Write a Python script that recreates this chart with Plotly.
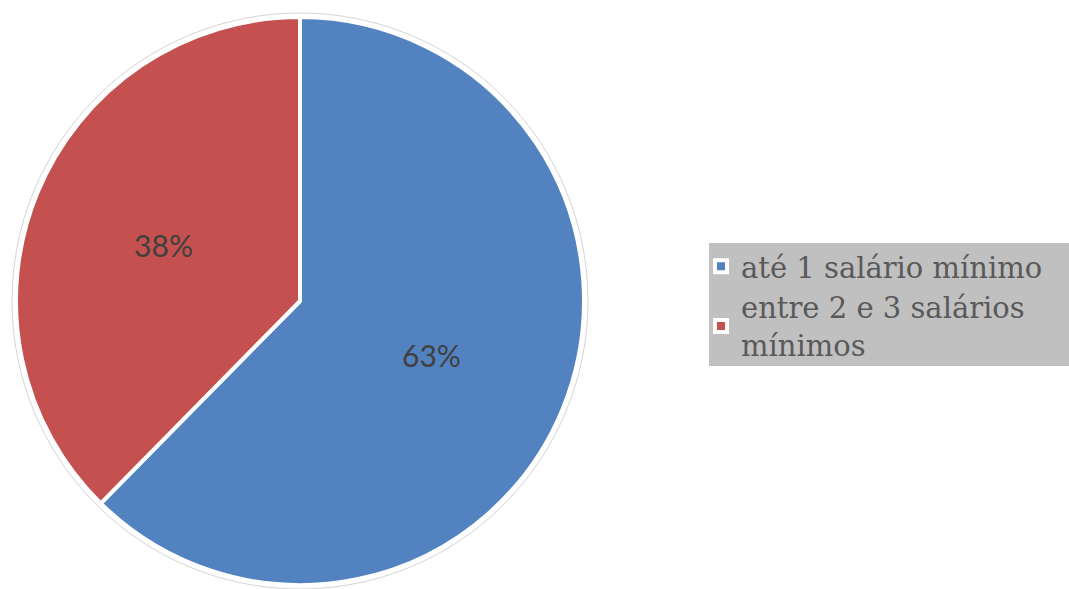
import plotly.graph_objects as go

# Income bands and their shares
categories = ["até 1 salário mínimo", "entre 2 e 3 salários<br>mínimos"]
shares = [63, 38]
slice_colors = ["#5283c0", "#c4514f"]

W, H = 1069, 589
cx, cy, r = 300, 301, 284  # pie centre and radius in pixels


def px_x(v):
    return v / W


def px_y(v):
    return 1 - v / H


fig = go.Figure(
    go.Pie(
        labels=categories,
        values=shares,
        sort=False,
        direction="clockwise",
        rotation=0,
        marker=dict(colors=slice_colors, line=dict(color="white", width=4)),
        texttemplate="%{value}%",
        textposition="inside",
        insidetextorientation="horizontal",
        textfont=dict(family="Lato", size=30, color="#404040"),
        hoverinfo="label+percent",
        domain=dict(x=[px_x(cx - r), px_x(cx + r)], y=[px_y(cy + r), px_y(cy - r)]),
    )
)

fig.update_layout(
    width=W,
    height=H,
    margin=dict(l=0, r=0, t=0, b=0),
    paper_bgcolor="white",
    plot_bgcolor="white",
    showlegend=True,
    legend=dict(
        x=px_x(701),
        y=px_y(241),
        xanchor="left",
        yanchor="top",
        bgcolor="rgba(0,0,0,0)",
        font=dict(family="DejaVu Serif", size=29, color="#595959"),
        tracegroupgap=0,
    ),
    shapes=[
        # thin grey rim around the pie
        dict(
            type="circle",
            xref="paper",
            yref="paper",
            x0=px_x(cx - r - 4),
            x1=px_x(cx + r + 4),
            y0=px_y(cy + r + 4),
            y1=px_y(cy - r - 4),
            line=dict(color="#d4d4d4", width=1),
            layer="below",
        ),
        # grey legend panel
        dict(
            type="rect",
            xref="paper",
            yref="paper",
            x0=px_x(709),
            x1=1,
            y0=px_y(366),
            y1=px_y(243),
            fillcolor="#c0c0c0",
            line=dict(width=0),
            layer="below",
        ),
    ],
)

fig.write_html("out.html")
